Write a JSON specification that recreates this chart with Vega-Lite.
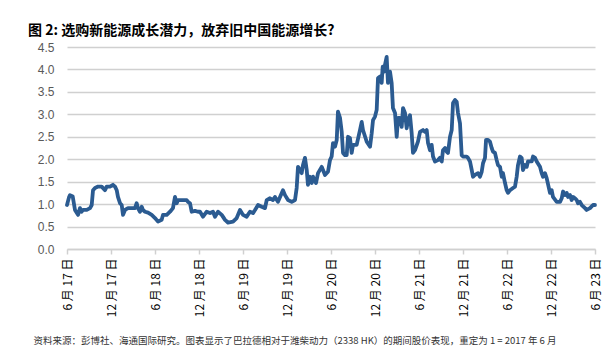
{
  "$schema": "https://vega.github.io/schema/vega-lite/v6.json",
  "width": 528,
  "height": 202,
  "autosize": "none",
  "padding": {"left": 67, "top": 47, "right": 12, "bottom": 110},
  "background": "white",
  "title": {
    "text": "图 2:  选购新能源成长潜力，放弃旧中国能源增长?",
    "anchor": "start",
    "frame": "group",
    "dx": -39,
    "offset": 3,
    "font": "Noto Sans CJK SC",
    "fontSize": 14,
    "fontWeight": "bold",
    "color": "#000000"
  },
  "data": {
    "values": [
      {"t": 0, "v": 0.98}, {"t": 0.27, "v": 1.15}, {"t": 0.41, "v": 1.2}, {"t": 0.78, "v": 1.17},
      {"t": 1.09, "v": 0.87}, {"t": 1.5, "v": 0.76}, {"t": 1.77, "v": 0.91}, {"t": 2.0, "v": 0.83},
      {"t": 2.18, "v": 0.87}, {"t": 2.69, "v": 0.87}, {"t": 3.14, "v": 0.91}, {"t": 3.37, "v": 0.98},
      {"t": 3.55, "v": 1.31}, {"t": 3.82, "v": 1.36}, {"t": 4.23, "v": 1.39}, {"t": 4.73, "v": 1.39},
      {"t": 5.18, "v": 1.31}, {"t": 5.41, "v": 1.39}, {"t": 5.86, "v": 1.39}, {"t": 6.27, "v": 1.43},
      {"t": 6.55, "v": 1.39}, {"t": 6.78, "v": 1.31}, {"t": 6.95, "v": 1.16}, {"t": 7.23, "v": 1.02},
      {"t": 7.46, "v": 0.98}, {"t": 7.64, "v": 0.76}, {"t": 7.91, "v": 0.87}, {"t": 8.32, "v": 0.91},
      {"t": 8.82, "v": 0.91}, {"t": 9.27, "v": 0.91}, {"t": 9.5, "v": 1.02}, {"t": 9.68, "v": 0.91},
      {"t": 9.95, "v": 0.83}, {"t": 10.19, "v": 0.94}, {"t": 10.36, "v": 0.87}, {"t": 10.64, "v": 0.83},
      {"t": 11.05, "v": 0.81}, {"t": 11.55, "v": 0.76}, {"t": 12.0, "v": 0.69}, {"t": 12.41, "v": 0.61},
      {"t": 12.91, "v": 0.65}, {"t": 13.09, "v": 0.76}, {"t": 13.6, "v": 0.76}, {"t": 14.05, "v": 0.83},
      {"t": 14.45, "v": 0.91}, {"t": 14.73, "v": 1.16}, {"t": 14.96, "v": 1.02}, {"t": 15.14, "v": 1.09},
      {"t": 15.64, "v": 1.09}, {"t": 16.32, "v": 1.09}, {"t": 16.5, "v": 1.05}, {"t": 16.77, "v": 1.02},
      {"t": 17.0, "v": 0.83}, {"t": 17.45, "v": 0.85}, {"t": 17.86, "v": 0.83}, {"t": 18.14, "v": 0.83},
      {"t": 18.55, "v": 0.72}, {"t": 19.05, "v": 0.83}, {"t": 19.5, "v": 0.8}, {"t": 19.91, "v": 0.83},
      {"t": 20.18, "v": 0.72}, {"t": 20.59, "v": 0.83}, {"t": 21.1, "v": 0.76}, {"t": 21.55, "v": 0.65},
      {"t": 21.95, "v": 0.59}, {"t": 22.64, "v": 0.61}, {"t": 23.14, "v": 0.69}, {"t": 23.59, "v": 0.87},
      {"t": 24.0, "v": 0.76}, {"t": 24.5, "v": 0.72}, {"t": 24.95, "v": 0.83}, {"t": 25.36, "v": 0.8},
      {"t": 25.64, "v": 0.87}, {"t": 26.05, "v": 0.98}, {"t": 26.55, "v": 0.94}, {"t": 27.0, "v": 0.91},
      {"t": 27.23, "v": 1.09}, {"t": 27.68, "v": 1.13}, {"t": 28.09, "v": 1.09}, {"t": 28.36, "v": 1.16},
      {"t": 28.77, "v": 1.05}, {"t": 29.05, "v": 1.16}, {"t": 29.45, "v": 1.31}, {"t": 29.73, "v": 1.2},
      {"t": 30.14, "v": 1.09}, {"t": 30.64, "v": 1.05}, {"t": 31.09, "v": 1.09}, {"t": 31.32, "v": 1.36},
      {"t": 31.5, "v": 1.83}, {"t": 31.77, "v": 1.76}, {"t": 32.0, "v": 1.69}, {"t": 32.18, "v": 1.87},
      {"t": 32.45, "v": 2.03}, {"t": 32.69, "v": 1.76}, {"t": 32.86, "v": 1.43}, {"t": 33.14, "v": 1.61},
      {"t": 33.37, "v": 1.47}, {"t": 33.55, "v": 1.61}, {"t": 33.95, "v": 1.47}, {"t": 34.23, "v": 1.69},
      {"t": 34.73, "v": 1.83}, {"t": 34.91, "v": 1.76}, {"t": 35.18, "v": 1.65}, {"t": 35.59, "v": 1.72},
      {"t": 35.86, "v": 1.98}, {"t": 36.09, "v": 2.06}, {"t": 36.27, "v": 2.36}, {"t": 36.55, "v": 2.28},
      {"t": 36.78, "v": 2.43}, {"t": 36.95, "v": 3.06}, {"t": 37.23, "v": 2.92}, {"t": 37.46, "v": 2.61},
      {"t": 37.64, "v": 2.14}, {"t": 37.91, "v": 2.09}, {"t": 38.14, "v": 2.09}, {"t": 38.32, "v": 2.5},
      {"t": 38.59, "v": 2.47}, {"t": 38.82, "v": 2.14}, {"t": 39.0, "v": 2.32}, {"t": 39.5, "v": 2.32},
      {"t": 39.95, "v": 2.65}, {"t": 40.19, "v": 2.83}, {"t": 40.36, "v": 2.65}, {"t": 40.87, "v": 2.39},
      {"t": 41.32, "v": 2.28}, {"t": 41.55, "v": 2.58}, {"t": 41.73, "v": 2.87}, {"t": 42.0, "v": 2.95},
      {"t": 42.23, "v": 3.1}, {"t": 42.41, "v": 3.81}, {"t": 42.68, "v": 3.84}, {"t": 42.91, "v": 3.7},
      {"t": 43.05, "v": 4.06}, {"t": 43.23, "v": 3.95}, {"t": 43.36, "v": 4.1}, {"t": 43.59, "v": 4.28},
      {"t": 43.77, "v": 3.7}, {"t": 44.05, "v": 3.95}, {"t": 44.27, "v": 3.7}, {"t": 44.45, "v": 3.14},
      {"t": 44.73, "v": 3.03}, {"t": 44.96, "v": 2.5}, {"t": 45.14, "v": 2.92}, {"t": 45.41, "v": 2.92},
      {"t": 45.64, "v": 2.72}, {"t": 45.82, "v": 3.14}, {"t": 46.09, "v": 3.03}, {"t": 46.32, "v": 2.69},
      {"t": 46.5, "v": 2.87}, {"t": 46.77, "v": 2.98}, {"t": 47.0, "v": 2.58}, {"t": 47.18, "v": 2.14},
      {"t": 47.45, "v": 2.2}, {"t": 47.86, "v": 2.39}, {"t": 48.14, "v": 2.61}, {"t": 48.55, "v": 2.65},
      {"t": 48.82, "v": 2.61}, {"t": 49.05, "v": 2.65}, {"t": 49.23, "v": 2.36}, {"t": 49.5, "v": 2.2},
      {"t": 49.73, "v": 2.32}, {"t": 49.91, "v": 2.06}, {"t": 50.18, "v": 1.95}, {"t": 50.59, "v": 1.98},
      {"t": 50.86, "v": 2.03}, {"t": 51.1, "v": 1.95}, {"t": 51.27, "v": 2.2}, {"t": 51.55, "v": 2.25},
      {"t": 51.78, "v": 2.17}, {"t": 51.95, "v": 2.14}, {"t": 52.23, "v": 2.5}, {"t": 52.46, "v": 2.65},
      {"t": 52.64, "v": 3.25}, {"t": 52.91, "v": 3.32}, {"t": 53.14, "v": 3.28}, {"t": 53.32, "v": 3.03},
      {"t": 53.59, "v": 2.8}, {"t": 53.82, "v": 2.09}, {"t": 54.0, "v": 2.06}, {"t": 54.5, "v": 2.06},
      {"t": 54.68, "v": 2.03}, {"t": 54.95, "v": 1.95}, {"t": 55.19, "v": 1.76}, {"t": 55.36, "v": 1.61},
      {"t": 55.64, "v": 1.65}, {"t": 56.05, "v": 1.69}, {"t": 56.32, "v": 1.61}, {"t": 56.55, "v": 1.72},
      {"t": 56.73, "v": 1.91}, {"t": 57.0, "v": 2.03}, {"t": 57.14, "v": 2.43}, {"t": 57.41, "v": 2.43},
      {"t": 57.68, "v": 2.39}, {"t": 57.91, "v": 2.25}, {"t": 58.09, "v": 2.17}, {"t": 58.36, "v": 2.14},
      {"t": 58.59, "v": 1.98}, {"t": 58.77, "v": 1.87}, {"t": 59.05, "v": 1.83}, {"t": 59.28, "v": 1.61},
      {"t": 59.45, "v": 1.69}, {"t": 59.73, "v": 1.47}, {"t": 59.96, "v": 1.31}, {"t": 60.14, "v": 1.25},
      {"t": 60.41, "v": 1.31}, {"t": 60.82, "v": 1.36}, {"t": 61.09, "v": 1.39}, {"t": 61.32, "v": 1.61},
      {"t": 61.5, "v": 1.87}, {"t": 61.77, "v": 2.06}, {"t": 62.0, "v": 2.03}, {"t": 62.18, "v": 1.76},
      {"t": 62.45, "v": 1.87}, {"t": 62.69, "v": 1.83}, {"t": 62.86, "v": 1.95}, {"t": 63.37, "v": 1.95},
      {"t": 63.55, "v": 2.06}, {"t": 63.82, "v": 2.03}, {"t": 64.05, "v": 1.95}, {"t": 64.5, "v": 1.83},
      {"t": 64.73, "v": 1.69}, {"t": 64.91, "v": 1.61}, {"t": 65.18, "v": 1.69}, {"t": 65.41, "v": 1.58},
      {"t": 65.86, "v": 1.25}, {"t": 66.09, "v": 1.31}, {"t": 66.27, "v": 1.16}, {"t": 66.78, "v": 1.05},
      {"t": 67.23, "v": 1.05}, {"t": 67.46, "v": 1.13}, {"t": 67.64, "v": 1.28}, {"t": 67.91, "v": 1.2},
      {"t": 68.14, "v": 1.25}, {"t": 68.32, "v": 1.16}, {"t": 68.59, "v": 1.2}, {"t": 68.82, "v": 1.09},
      {"t": 69.0, "v": 1.16}, {"t": 69.27, "v": 1.13}, {"t": 69.5, "v": 1.09}, {"t": 69.68, "v": 1.02},
      {"t": 69.95, "v": 1.05}, {"t": 70.19, "v": 0.98}, {"t": 70.64, "v": 0.91}, {"t": 70.86, "v": 0.87},
      {"t": 71.32, "v": 0.91}, {"t": 71.73, "v": 0.98}, {"t": 72.0, "v": 0.98}
    ]
  },
  "mark": {"type": "line", "color": "#2B5B91", "strokeWidth": 3.8, "strokeJoin": "round", "strokeCap": "round", "clip": false},
  "encoding": {
    "x": {
      "field": "t",
      "type": "quantitative",
      "scale": {"domain": [0, 72], "nice": false, "zero": false},
      "axis": {
        "values": [0, 6, 12, 18, 24, 30, 36, 42, 48, 54, 60, 66, 72],
        "labelExpr": "(datum.value % 12 == 0 ? '6' : '12') + ' 月 ' + (17 + floor(datum.value / 12)) + ' 日'",
        "labelAngle": -90,
        "labelAlign": "right",
        "labelBaseline": "middle",
        "labelFont": "Noto Sans CJK SC",
        "labelFontSize": 12,
        "labelColor": "#000000",
        "labelPadding": 4,
        "labelOverlap": false,
        "labelFlush": false,
        "domainColor": "#D0D0D0",
        "domainWidth": 1.5,
        "tickColor": "#D0D0D0",
        "tickWidth": 1.5,
        "tickSize": 5,
        "grid": false,
        "title": "资料来源：彭博社、海通国际研究。图表显示了巴拉德相对于潍柴动力（2338 HK）的期间股价表现，重定为 1 = 2017 年 6 月",
        "titleFont": "Noto Sans CJK SC",
        "titleFontSize": 9.5,
        "titleFontWeight": "normal",
        "titleColor": "#333333",
        "titleAnchor": "start",
        "titleAlign": "left",
        "titleBaseline": "middle",
        "titleX": -34,
        "titleY": 91
      }
    },
    "y": {
      "field": "v",
      "type": "quantitative",
      "scale": {"domain": [0, 4.5], "nice": false},
      "axis": {
        "values": [0, 0.5, 1, 1.5, 2, 2.5, 3, 3.5, 4, 4.5],
        "title": null,
        "domain": false,
        "ticks": false,
        "labelFont": "Liberation Sans",
        "labelFontSize": 12,
        "labelColor": "#595959",
        "labelPadding": 13,
        "gridColor": "#D0D0D0",
        "gridWidth": 1.5
      }
    }
  },
  "config": {"view": {"stroke": null}}
}
